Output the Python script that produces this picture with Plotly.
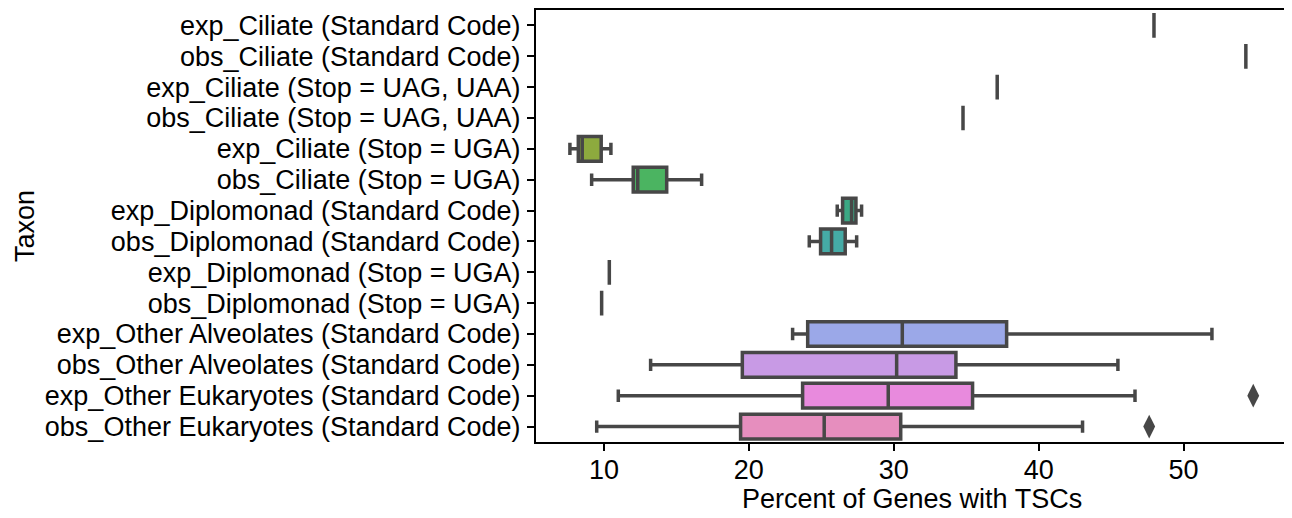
import plotly.graph_objects as go

# ---- data ----
taxa = [
    "exp_Ciliate (Standard Code)",
    "obs_Ciliate (Standard Code)",
    "exp_Ciliate (Stop = UAG, UAA)",
    "obs_Ciliate (Stop = UAG, UAA)",
    "exp_Ciliate (Stop = UGA)",
    "obs_Ciliate (Stop = UGA)",
    "exp_Diplomonad (Standard Code)",
    "obs_Diplomonad (Standard Code)",
    "exp_Diplomonad (Stop = UGA)",
    "obs_Diplomonad (Stop = UGA)",
    "exp_Other Alveolates (Standard Code)",
    "obs_Other Alveolates (Standard Code)",
    "exp_Other Eukaryotes (Standard Code)",
    "obs_Other Eukaryotes (Standard Code)",
]
lower_whisker = [47.96, 54.3, 37.14, 34.78, 7.65, 9.15, 26.1, 24.17, 10.37, 9.84, 23.02, 13.22, 10.99, 9.5]
q1_vals       = [47.96, 54.3, 37.14, 34.78, 8.23, 12.02, 26.47, 24.95, 10.37, 9.84, 24.06, 19.55, 23.71, 19.43]
medians       = [47.96, 54.3, 37.14, 34.78, 8.5, 12.33, 27.09, 25.71, 10.37, 9.84, 30.59, 30.2, 29.62, 25.2]
q3_vals       = [47.96, 54.3, 37.14, 34.78, 9.81, 14.33, 27.39, 26.65, 10.37, 9.84, 37.79, 34.29, 35.44, 30.48]
upper_whisker = [47.96, 54.3, 37.14, 34.78, 10.48, 16.74, 27.78, 27.44, 10.37, 9.84, 51.96, 45.47, 46.65, 43.03]

outlier_taxa = ["exp_Other Eukaryotes (Standard Code)", "obs_Other Eukaryotes (Standard Code)"]
outlier_vals = [54.81, 47.63]

x_ticks = [10, 20, 30, 40, 50]
x_title = "Percent of Genes with TSCs"
y_title = "Taxon"

# ---- styles ----
colors = ["#e6848f", "#db9557", "#c0a14a", "#a8a646", "#8daa3e", "#4bb461", "#3ba884",
          "#45aba6", "#4aa9bd", "#63a6dd", "#9ba8e8", "#c89ae5", "#e88add", "#e68ebe"]
line_grey = "#474747"
font_family = "Liberation Sans, Arial, sans-serif"
fs = 27

fig = go.Figure()
for i, t in enumerate(taxa):
    fig.add_trace(go.Box(
        y=[t], q1=[q1_vals[i]], median=[medians[i]], q3=[q3_vals[i]],
        lowerfence=[lower_whisker[i]], upperfence=[upper_whisker[i]],
        orientation="h", fillcolor=colors[i],
        line=dict(color=line_grey, width=3.5),
        width=0.8, whiskerwidth=0.5, boxpoints=False, showlegend=False,
    ))

fig.add_trace(go.Scatter(
    x=outlier_vals, y=outlier_taxa, mode="markers",
    marker=dict(symbol="diamond-tall", size=17, color=line_grey, line=dict(width=0)),
    showlegend=False,
))

fig.update_layout(
    width=1284, height=510,
    margin=dict(l=528, r=5, t=2, b=76),
    plot_bgcolor="white", paper_bgcolor="white",
    boxmode="overlay",
    font=dict(family=font_family, size=fs, color="black"),
    annotations=[
        dict(text=x_title, xref="paper", yref="paper", x=0.5, y=-57 / 432,
             xanchor="center", yanchor="middle", showarrow=False,
             font=dict(size=fs)),
        dict(text=y_title, xref="paper", yref="paper", x=-(536 - 25) / 751, y=0.5,
             xanchor="center", yanchor="middle", textangle=-90, showarrow=False,
             font=dict(size=fs)),
    ],
)
fig.update_xaxes(
    range=[5.31, 57.14], tickvals=x_ticks, ticktext=[str(v) for v in x_ticks],
    showgrid=False, zeroline=False, automargin=False,
    showline=True, linecolor="black", linewidth=2, mirror=True,
    ticks="outside", ticklen=7, tickwidth=1.5, tickcolor="black",
    ticklabelstandoff=-4,
    tickfont=dict(size=fs),
)
fig.update_yaxes(
    type="category", categoryorder="array", categoryarray=taxa,
    range=[len(taxa) - 0.5, -0.5], autorange=False,
    tickmode="array", tickvals=taxa, ticktext=taxa,
    showgrid=False, zeroline=False, automargin=False,
    showline=True, linecolor="black", linewidth=2, mirror=True,
    ticks="outside", ticklen=7, tickwidth=1.5, tickcolor="black",
    ticklabelstandoff=1,
    tickfont=dict(size=fs),
)

fig.write_html("out.html")
